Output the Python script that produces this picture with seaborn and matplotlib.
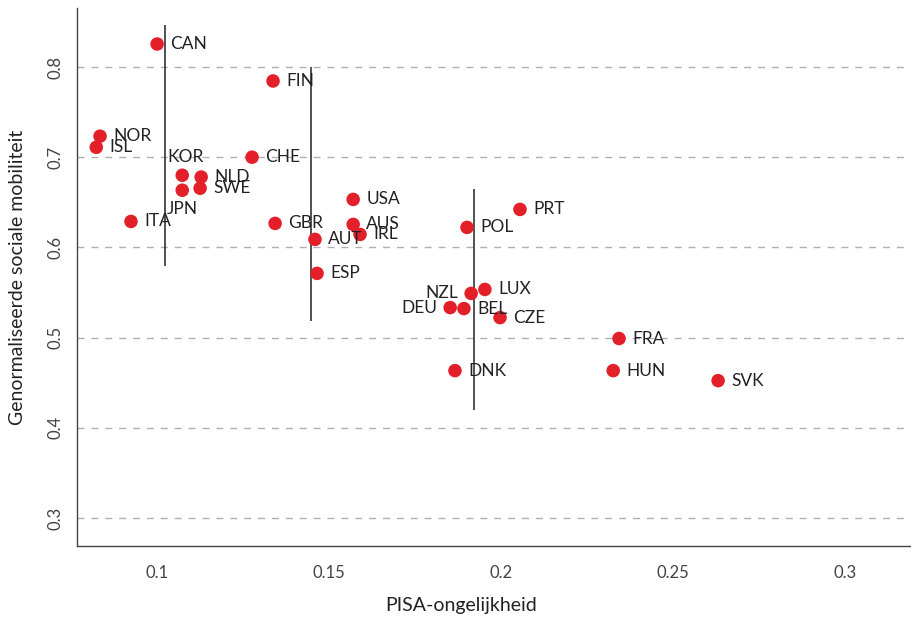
import matplotlib
matplotlib.use("Agg")
import matplotlib.pyplot as plt
import seaborn as sns
import pandas as pd

countries = ["CAN", "FIN", "NOR", "ISL", "CHE", "KOR", "NLD", "JPN", "SWE", "ITA",
             "GBR", "AUT", "ESP", "USA", "AUS", "IRL", "POL", "PRT", "NZL", "LUX",
             "DEU", "BEL", "CZE", "DNK", "FRA", "HUN", "SVK"]
pisa_inequality = [0.1000, 0.1337, 0.0834, 0.0823, 0.1276, 0.1073, 0.1128, 0.1073, 0.1125, 0.0924,
                   0.1343, 0.1459, 0.1465, 0.1570, 0.1570, 0.1590, 0.1901, 0.2055, 0.1913, 0.1953,
                   0.1852, 0.1892, 0.1997, 0.1866, 0.2343, 0.2326, 0.2631]
mobility = [0.8255, 0.7845, 0.7233, 0.7110, 0.7000, 0.6800, 0.6780, 0.6634, 0.6656, 0.6288,
            0.6266, 0.6089, 0.5712, 0.6532, 0.6255, 0.6144, 0.6222, 0.6421, 0.5490, 0.5534,
            0.5333, 0.5322, 0.5222, 0.4634, 0.4990, 0.4634, 0.4523]
label_pos = ["right", "right", "right", "right", "right", "above", "right", "below", "right", "right",
             "right", "right", "right", "right", "right", "right", "right", "right", "left", "right",
             "left", "right", "right", "right", "right", "right", "right"]

# vertical range lines
range_x = [0.1023, 0.1448, 0.1922]
range_low = [0.579, 0.518, 0.420]
range_high = [0.847, 0.800, 0.665]

xticks = [0.1, 0.15, 0.2, 0.25, 0.3]
xtick_labels = ["0.1", "0.15", "0.2", "0.25", "0.3"]
yticks = [0.3, 0.4, 0.5, 0.6, 0.7, 0.8]
ytick_labels = ["0.3", "0.4", "0.5", "0.6", "0.7", "0.8"]

df = pd.DataFrame({"country": countries, "x": pisa_inequality, "y": mobility, "pos": label_pos})

sns.set_theme(style="white")
plt.rcParams["font.family"] = ["Lato", "DejaVu Sans"]

fig = plt.figure(figsize=(9.12, 6.18), dpi=100)
ax = fig.add_axes([77 / 912, 1 - 546 / 618, (910 - 77) / 912, (546 - 8) / 618])

ax.set_xlim(0.0767, 0.3189)
ax.set_ylim(0.269, 0.8654)

for yv in yticks:
    ax.axhline(yv, color="#b0b0b0", lw=1.0, ls=(0, (5, 5)), zorder=0)

ax.vlines(range_x, range_low, range_high, color="#222222", lw=1.1, zorder=1)

sns.scatterplot(data=df, x="x", y="y", ax=ax, color="#e3202a", s=95,
                edgecolor="none", zorder=3, legend=False)

px = 0.72  # points per pixel at 100 dpi
for _, r in df.iterrows():
    if r["pos"] == "right":
        off, ha, va = (13 * px, 0), "left", "center"
    elif r["pos"] == "left":
        off, ha, va = (-13 * px, 0), "right", "center"
    elif r["pos"] == "above":
        off, ha, va = (3 * px, 18 * px), "center", "center"
    else:
        off, ha, va = (0, -19 * px), "center", "center"
    ax.annotate(r["country"], (r["x"], r["y"]), xytext=off, textcoords="offset points",
                ha=ha, va=va, fontsize=12.5, color="#222222", zorder=4)

ax.set_xticks(xticks)
ax.set_xticklabels(xtick_labels)
ax.set_yticks(yticks)
ax.set_yticklabels(ytick_labels, rotation=90, va="center")
ax.tick_params(axis="x", direction="out", length=6, width=1, color="#444444",
               labelsize=12, labelcolor="#444444", pad=8)
ax.tick_params(axis="y", length=0, labelsize=12, labelcolor="#444444", pad=10)

for side in ["top", "right"]:
    ax.spines[side].set_visible(False)
for side in ["left", "bottom"]:
    ax.spines[side].set_color("#444444")
    ax.spines[side].set_linewidth(1.0)

ax.set_xlabel("PISA-ongelijkheid", fontsize=14, color="#222222", va="center")
ax.set_ylabel("Genormaliseerde sociale mobiliteit", fontsize=14, color="#222222", va="center")
ax.xaxis.set_label_coords((461 - 77) / 833, -60 / 538)
ax.yaxis.set_label_coords(-59 / 833, 0.5)

fig.savefig("out.png", dpi=100)
